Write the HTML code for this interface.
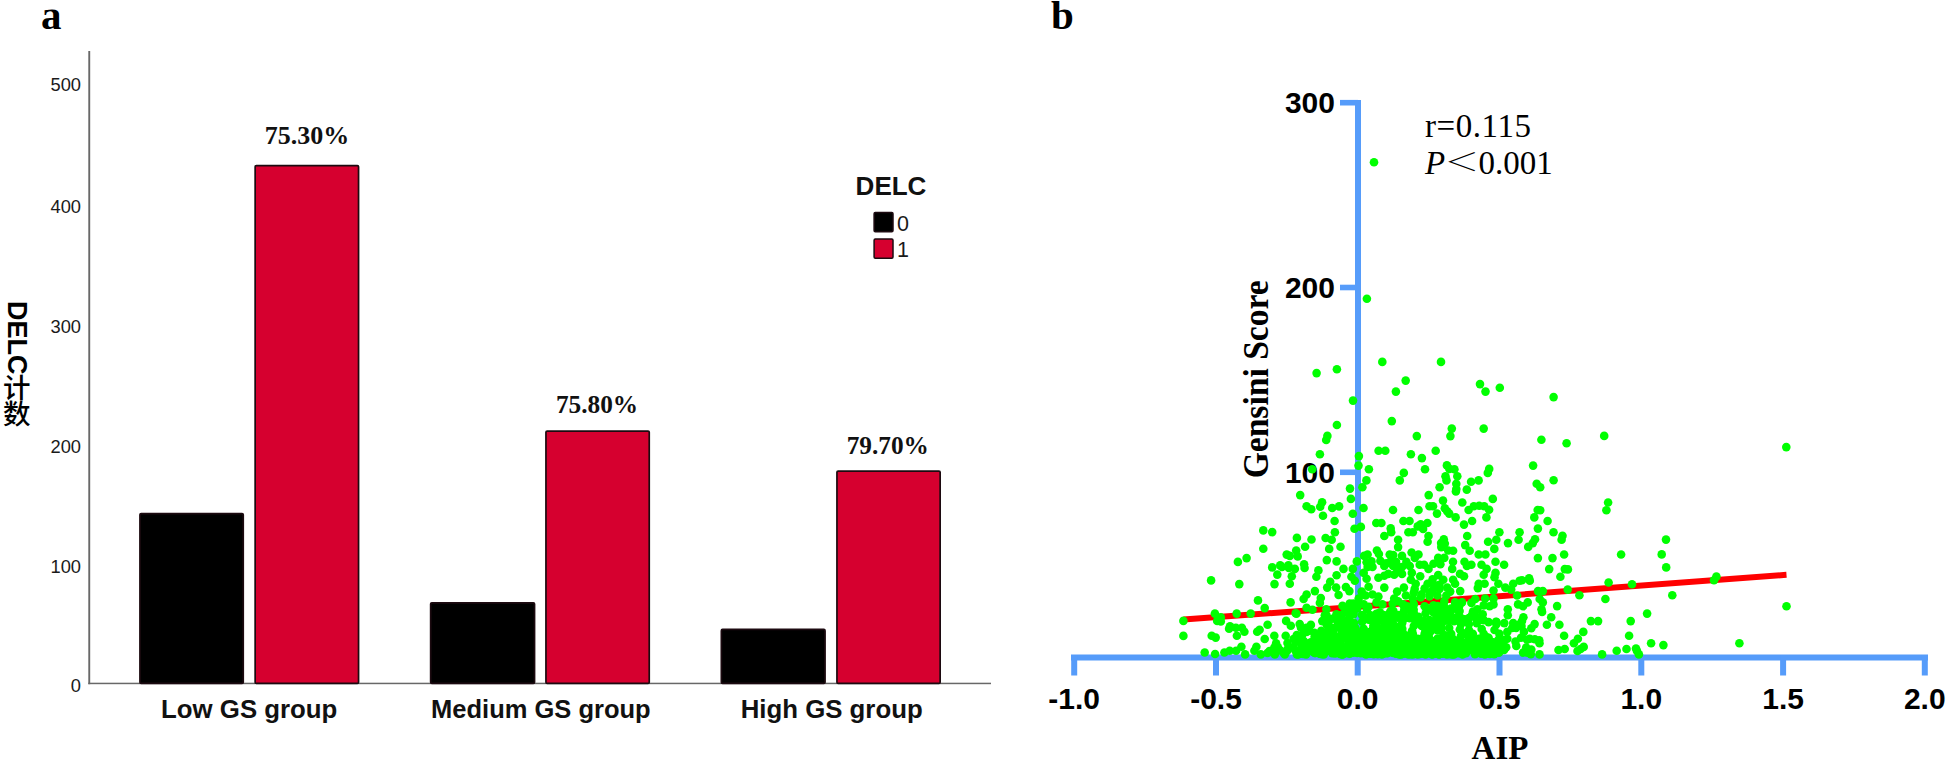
<!DOCTYPE html>
<html lang="en">
<head>
<meta charset="utf-8">
<title>Figure: DELC counts by GS group and AIP vs Gensini Score</title>
<style>
html,body{margin:0;padding:0;background:#fff;}
body{width:1948px;height:762px;overflow:hidden;position:relative;}
svg{position:absolute;left:0;top:0;display:block;}
.sans{font-family:"Liberation Sans","Noto Sans CJK SC",sans-serif;}
.serif{font-family:"Liberation Serif","Noto Serif CJK SC",serif;}
.b{font-weight:bold;}
.ylab{position:absolute;left:2px;top:301.4px;width:30px;height:140px;writing-mode:vertical-rl;text-orientation:mixed;
 font-family:"Liberation Sans","Noto Sans CJK SC",sans-serif;font-size:27px;line-height:30px;color:#000;white-space:nowrap;}
.ylab b{font-weight:bold;}
.ylab span{font-weight:500;font-size:27.5px;letter-spacing:-1.8px;position:relative;left:-3.2px;top:-1.2px;}
</style>
</head>
<body>
<svg width="1948" height="762" viewBox="0 0 1948 762">
<rect x="0" y="0" width="1948" height="762" fill="#ffffff"/>

<text x="41" y="29.4" class="serif b" font-size="41" fill="#000">a</text>
<text x="1051" y="29.4" class="serif b" font-size="41" fill="#000">b</text>
<g id="bar-chart">
<rect x="88.3" y="51" width="1.9" height="633.2" fill="#686868"/>
<rect x="88.3" y="682.7" width="902.7" height="1.5" fill="#686868"/>
<text x="81" y="692.4" text-anchor="end" class="sans" font-size="18.3" fill="#1a1a1a">0</text>
<text x="81" y="572.5" text-anchor="end" class="sans" font-size="18.3" fill="#1a1a1a">100</text>
<text x="81" y="452.6" text-anchor="end" class="sans" font-size="18.3" fill="#1a1a1a">200</text>
<text x="81" y="332.7" text-anchor="end" class="sans" font-size="18.3" fill="#1a1a1a">300</text>
<text x="81" y="212.8" text-anchor="end" class="sans" font-size="18.3" fill="#1a1a1a">400</text>
<text x="81" y="91.2" text-anchor="end" class="sans" font-size="18.3" fill="#1a1a1a">500</text>
<rect x="139.95" y="513.65" width="103.30" height="169.75" rx="1.2" fill="#000000" stroke="#1c0a10" stroke-width="1.7"/>
<rect x="255.15" y="165.55" width="103.40" height="517.85" rx="1.2" fill="#d6002f" stroke="#1c0a10" stroke-width="1.7"/>
<rect x="430.65" y="602.85" width="103.90" height="80.55" rx="1.2" fill="#000000" stroke="#1c0a10" stroke-width="1.7"/>
<rect x="545.95" y="431.15" width="103.30" height="252.25" rx="1.2" fill="#d6002f" stroke="#1c0a10" stroke-width="1.7"/>
<rect x="721.35" y="629.45" width="103.70" height="53.95" rx="1.2" fill="#000000" stroke="#1c0a10" stroke-width="1.7"/>
<rect x="836.95" y="471.15" width="103.20" height="212.25" rx="1.2" fill="#d6002f" stroke="#1c0a10" stroke-width="1.7"/>
<text x="307" y="144.1" text-anchor="middle" class="serif b" font-size="26" fill="#111">75.30%</text>
<text x="597" y="412.8" text-anchor="middle" class="serif b" font-size="25.3" fill="#111">75.80%</text>
<text x="887.8" y="454.1" text-anchor="middle" class="serif b" font-size="25.3" fill="#111">79.70%</text>
<text x="249.2" y="717.5" text-anchor="middle" class="sans b" font-size="25.8" fill="#111">Low GS group</text>
<text x="540.9" y="717.5" text-anchor="middle" class="sans b" font-size="25.5" fill="#111">Medium GS group</text>
<text x="831.7" y="717.5" text-anchor="middle" class="sans b" font-size="25.8" fill="#111">High GS group</text>
<text x="891" y="195" text-anchor="middle" class="sans b" font-size="26" fill="#111">DELC</text>
<rect x="874.1" y="212.6" width="18.9" height="19.2" rx="1.2" fill="#000" stroke="#1c0a10" stroke-width="1.5"/>
<rect x="874.1" y="239" width="18.9" height="19.2" rx="1.2" fill="#d6002f" stroke="#1c0a10" stroke-width="1.5"/>
<text x="897" y="231.4" class="sans" font-size="21.5" fill="#1a1a1a">0</text>
<text x="897" y="257" class="sans" font-size="21.5" fill="#1a1a1a">1</text>
</g>
<g id="scatter">
<g fill="#569cfa">
<rect x="1355" y="100" width="6" height="560"/>
<rect x="1071" y="654.5" width="857" height="6"/>
<rect x="1340" y="99.9" width="18" height="5.6"/>
<rect x="1340" y="284.7" width="18" height="5.6"/>
<rect x="1340" y="469.5" width="18" height="5.6"/>
<rect x="1071.2" y="655" width="6" height="20.5"/>
<rect x="1213.0" y="655" width="6" height="20.5"/>
<rect x="1354.7" y="655" width="6" height="20.5"/>
<rect x="1496.5" y="655" width="6" height="20.5"/>
<rect x="1638.3" y="655" width="6" height="20.5"/>
<rect x="1780.1" y="655" width="6" height="20.5"/>
<rect x="1921.8" y="655" width="6" height="20.5"/>
</g>
<text x="1335" y="113.2" text-anchor="end" class="sans b" font-size="30" fill="#000">300</text>
<text x="1335" y="298.0" text-anchor="end" class="sans b" font-size="30" fill="#000">200</text>
<text x="1335" y="482.8" text-anchor="end" class="sans b" font-size="30" fill="#000">100</text>
<text x="1074.2" y="708.8" text-anchor="middle" class="sans b" font-size="30" fill="#000">-1.0</text>
<text x="1216.0" y="708.8" text-anchor="middle" class="sans b" font-size="30" fill="#000">-0.5</text>
<text x="1357.7" y="708.8" text-anchor="middle" class="sans b" font-size="30" fill="#000">0.0</text>
<text x="1499.5" y="708.8" text-anchor="middle" class="sans b" font-size="30" fill="#000">0.5</text>
<text x="1641.3" y="708.8" text-anchor="middle" class="sans b" font-size="30" fill="#000">1.0</text>
<text x="1783.1" y="708.8" text-anchor="middle" class="sans b" font-size="30" fill="#000">1.5</text>
<text x="1924.8" y="708.8" text-anchor="middle" class="sans b" font-size="30" fill="#000">2.0</text>
<line x1="1183.5" y1="619.6" x2="1786.5" y2="574.8" stroke="#ff0000" stroke-width="6"/>
<g fill="#00ff00">
<circle cx="1374" cy="162.3" r="4.3"/>
<circle cx="1366.9" cy="298.8" r="4.3"/>
<circle cx="1786.3" cy="447.1" r="4.3"/>
<circle cx="1316.6" cy="373.1" r="4.3"/>
<circle cx="1336.9" cy="369.3" r="4.3"/>
<circle cx="1382.3" cy="361.9" r="4.3"/>
<circle cx="1441.0" cy="361.9" r="4.3"/>
<circle cx="1405.7" cy="380.6" r="4.3"/>
<circle cx="1395.9" cy="391.6" r="4.3"/>
<circle cx="1480.0" cy="384.1" r="4.3"/>
<circle cx="1485.5" cy="391.6" r="4.3"/>
<circle cx="1353.0" cy="400.6" r="4.3"/>
<circle cx="1391.8" cy="421.1" r="4.3"/>
<circle cx="1336.9" cy="425.0" r="4.3"/>
<circle cx="1327.4" cy="435.9" r="4.3"/>
<circle cx="1326.2" cy="440.0" r="4.3"/>
<circle cx="1451.8" cy="428.6" r="4.3"/>
<circle cx="1450.4" cy="436.1" r="4.3"/>
<circle cx="1483.7" cy="428.6" r="4.3"/>
<circle cx="1416.8" cy="436.1" r="4.3"/>
<circle cx="1319.9" cy="454.2" r="4.3"/>
<circle cx="1378.6" cy="450.8" r="4.3"/>
<circle cx="1385.3" cy="450.8" r="4.3"/>
<circle cx="1435.7" cy="450.8" r="4.3"/>
<circle cx="1410.9" cy="454.2" r="4.3"/>
<circle cx="1421.9" cy="458.1" r="4.3"/>
<circle cx="1358.9" cy="456.1" r="4.3"/>
<circle cx="1358.5" cy="465.6" r="4.3"/>
<circle cx="1368.9" cy="469.3" r="4.3"/>
<circle cx="1312.2" cy="469.3" r="4.3"/>
<circle cx="1425.0" cy="469.3" r="4.3"/>
<circle cx="1403.8" cy="472.9" r="4.3"/>
<circle cx="1399.8" cy="480.4" r="4.3"/>
<circle cx="1366.4" cy="480.4" r="4.3"/>
<circle cx="1362.4" cy="487.2" r="4.3"/>
<circle cx="1350.0" cy="488.6" r="4.3"/>
<circle cx="1446.9" cy="465.4" r="4.3"/>
<circle cx="1454.4" cy="469.3" r="4.3"/>
<circle cx="1449.4" cy="468.9" r="4.3"/>
<circle cx="1445.5" cy="476.2" r="4.3"/>
<circle cx="1457.3" cy="476.2" r="4.3"/>
<circle cx="1446.5" cy="480.4" r="4.3"/>
<circle cx="1456.3" cy="483.7" r="4.3"/>
<circle cx="1439.6" cy="487.2" r="4.3"/>
<circle cx="1471.1" cy="481.7" r="4.3"/>
<circle cx="1478.6" cy="480.4" r="4.3"/>
<circle cx="1487.8" cy="472.9" r="4.3"/>
<circle cx="1489.2" cy="468.9" r="4.3"/>
<circle cx="1466.8" cy="489.6" r="4.3"/>
<circle cx="1456.3" cy="489.0" r="4.3"/>
<circle cx="1499.8" cy="387.8" r="4.3"/>
<circle cx="1553.6" cy="397.1" r="4.3"/>
<circle cx="1604.2" cy="435.9" r="4.3"/>
<circle cx="1541.4" cy="439.8" r="4.3"/>
<circle cx="1566.6" cy="443.3" r="4.3"/>
<circle cx="1533.1" cy="465.6" r="4.3"/>
<circle cx="1553.6" cy="480.2" r="4.3"/>
<circle cx="1536.7" cy="483.7" r="4.3"/>
<circle cx="1540.2" cy="487.2" r="4.3"/>
<circle cx="1263.3" cy="530.4" r="4.3"/>
<circle cx="1272.2" cy="532.1" r="4.3"/>
<circle cx="1263.3" cy="548.7" r="4.3"/>
<circle cx="1246.6" cy="558.1" r="4.3"/>
<circle cx="1237.9" cy="561.9" r="4.3"/>
<circle cx="1286.7" cy="554.6" r="4.3"/>
<circle cx="1272.2" cy="567.4" r="4.3"/>
<circle cx="1280.2" cy="565.4" r="4.3"/>
<circle cx="1277.3" cy="574.6" r="4.3"/>
<circle cx="1211.1" cy="580.4" r="4.3"/>
<circle cx="1239.3" cy="584.1" r="4.3"/>
<circle cx="1274.5" cy="584.1" r="4.3"/>
<circle cx="1258.0" cy="600.4" r="4.3"/>
<circle cx="1264.7" cy="608.1" r="4.3"/>
<circle cx="1214.9" cy="613.6" r="4.3"/>
<circle cx="1236.7" cy="613.6" r="4.3"/>
<circle cx="1250.7" cy="613.6" r="4.3"/>
<circle cx="1183.4" cy="620.9" r="4.3"/>
<circle cx="1220.8" cy="617.4" r="4.3"/>
<circle cx="1217.2" cy="620.9" r="4.3"/>
<circle cx="1220.8" cy="621.5" r="4.3"/>
<circle cx="1230.0" cy="626.4" r="4.3"/>
<circle cx="1229.1" cy="628.8" r="4.3"/>
<circle cx="1235.9" cy="627.8" r="4.3"/>
<circle cx="1241.9" cy="627.8" r="4.3"/>
<circle cx="1244.4" cy="631.7" r="4.3"/>
<circle cx="1236.9" cy="635.7" r="4.3"/>
<circle cx="1267.6" cy="624.8" r="4.3"/>
<circle cx="1259.6" cy="629.8" r="4.3"/>
<circle cx="1257.2" cy="631.7" r="4.3"/>
<circle cx="1286.1" cy="620.9" r="4.3"/>
<circle cx="1183.4" cy="635.9" r="4.3"/>
<circle cx="1211.7" cy="635.7" r="4.3"/>
<circle cx="1215.7" cy="637.6" r="4.3"/>
<circle cx="1274.3" cy="635.7" r="4.3"/>
<circle cx="1285.7" cy="635.7" r="4.3"/>
<circle cx="1264.7" cy="639.0" r="4.3"/>
<circle cx="1300.2" cy="495.1" r="4.3"/>
<circle cx="1350.9" cy="498.9" r="4.3"/>
<circle cx="1322.1" cy="502.3" r="4.3"/>
<circle cx="1320.2" cy="506.7" r="4.3"/>
<circle cx="1306.6" cy="506.2" r="4.3"/>
<circle cx="1311.3" cy="509.2" r="4.3"/>
<circle cx="1332.2" cy="508.0" r="4.3"/>
<circle cx="1339.1" cy="506.4" r="4.3"/>
<circle cx="1363.5" cy="508.0" r="4.3"/>
<circle cx="1393.0" cy="510.0" r="4.3"/>
<circle cx="1323.0" cy="515.8" r="4.3"/>
<circle cx="1352.8" cy="513.8" r="4.3"/>
<circle cx="1334.6" cy="521.0" r="4.3"/>
<circle cx="1376.3" cy="523.0" r="4.3"/>
<circle cx="1381.4" cy="523.0" r="4.3"/>
<circle cx="1354.5" cy="528.7" r="4.3"/>
<circle cx="1360.9" cy="526.9" r="4.3"/>
<circle cx="1390.7" cy="528.4" r="4.3"/>
<circle cx="1391.2" cy="532.3" r="4.3"/>
<circle cx="1334.9" cy="532.3" r="4.3"/>
<circle cx="1384.3" cy="536.0" r="4.3"/>
<circle cx="1296.9" cy="537.9" r="4.3"/>
<circle cx="1311.5" cy="539.5" r="4.3"/>
<circle cx="1325.6" cy="538.0" r="4.3"/>
<circle cx="1331.7" cy="539.7" r="4.3"/>
<circle cx="1398.1" cy="539.7" r="4.3"/>
<circle cx="1305.1" cy="546.8" r="4.3"/>
<circle cx="1329.2" cy="548.9" r="4.3"/>
<circle cx="1340.5" cy="546.8" r="4.3"/>
<circle cx="1296.2" cy="550.5" r="4.3"/>
<circle cx="1289.8" cy="555.9" r="4.3"/>
<circle cx="1297.7" cy="556.4" r="4.3"/>
<circle cx="1376.9" cy="550.5" r="4.3"/>
<circle cx="1378.9" cy="554.0" r="4.3"/>
<circle cx="1367.6" cy="554.5" r="4.3"/>
<circle cx="1364.2" cy="555.9" r="4.3"/>
<circle cx="1389.7" cy="554.5" r="4.3"/>
<circle cx="1393.2" cy="555.0" r="4.3"/>
<circle cx="1398.1" cy="547.1" r="4.3"/>
<circle cx="1326.8" cy="560.1" r="4.3"/>
<circle cx="1336.6" cy="561.4" r="4.3"/>
<circle cx="1356.8" cy="561.4" r="4.3"/>
<circle cx="1304.1" cy="564.3" r="4.3"/>
<circle cx="1288.4" cy="565.3" r="4.3"/>
<circle cx="1371.5" cy="561.4" r="4.3"/>
<circle cx="1380.4" cy="560.9" r="4.3"/>
<circle cx="1391.2" cy="560.4" r="4.3"/>
<circle cx="1366.6" cy="562.3" r="4.3"/>
<circle cx="1386.3" cy="563.3" r="4.3"/>
<circle cx="1396.1" cy="561.9" r="4.3"/>
<circle cx="1428.7" cy="495.1" r="4.3"/>
<circle cx="1455.9" cy="491.5" r="4.3"/>
<circle cx="1492.8" cy="498.9" r="4.3"/>
<circle cx="1443.0" cy="500.6" r="4.3"/>
<circle cx="1462.3" cy="502.5" r="4.3"/>
<circle cx="1429.5" cy="506.2" r="4.3"/>
<circle cx="1433.0" cy="506.2" r="4.3"/>
<circle cx="1418.5" cy="510.0" r="4.3"/>
<circle cx="1444.8" cy="508.2" r="4.3"/>
<circle cx="1447.2" cy="511.2" r="4.3"/>
<circle cx="1449.2" cy="513.6" r="4.3"/>
<circle cx="1437.0" cy="513.6" r="4.3"/>
<circle cx="1455.6" cy="517.4" r="4.3"/>
<circle cx="1473.8" cy="506.2" r="4.3"/>
<circle cx="1479.2" cy="505.7" r="4.3"/>
<circle cx="1484.2" cy="506.2" r="4.3"/>
<circle cx="1489.1" cy="509.7" r="4.3"/>
<circle cx="1468.6" cy="510.0" r="4.3"/>
<circle cx="1486.4" cy="517.4" r="4.3"/>
<circle cx="1472.1" cy="521.0" r="4.3"/>
<circle cx="1464.0" cy="524.6" r="4.3"/>
<circle cx="1403.4" cy="521.0" r="4.3"/>
<circle cx="1409.5" cy="521.0" r="4.3"/>
<circle cx="1427.4" cy="523.0" r="4.3"/>
<circle cx="1420.7" cy="524.4" r="4.3"/>
<circle cx="1417.7" cy="526.4" r="4.3"/>
<circle cx="1423.1" cy="528.9" r="4.3"/>
<circle cx="1408.4" cy="532.3" r="4.3"/>
<circle cx="1412.8" cy="532.3" r="4.3"/>
<circle cx="1428.5" cy="536.0" r="4.3"/>
<circle cx="1427.6" cy="541.7" r="4.3"/>
<circle cx="1443.8" cy="539.2" r="4.3"/>
<circle cx="1441.1" cy="543.1" r="4.3"/>
<circle cx="1444.8" cy="543.6" r="4.3"/>
<circle cx="1441.3" cy="547.1" r="4.3"/>
<circle cx="1499.4" cy="532.3" r="4.3"/>
<circle cx="1519.6" cy="532.3" r="4.3"/>
<circle cx="1496.3" cy="539.7" r="4.3"/>
<circle cx="1488.1" cy="541.7" r="4.3"/>
<circle cx="1508.0" cy="543.1" r="4.3"/>
<circle cx="1518.6" cy="539.7" r="4.3"/>
<circle cx="1467.2" cy="536.0" r="4.3"/>
<circle cx="1465.2" cy="545.1" r="4.3"/>
<circle cx="1469.7" cy="550.8" r="4.3"/>
<circle cx="1494.3" cy="548.9" r="4.3"/>
<circle cx="1448.2" cy="550.5" r="4.3"/>
<circle cx="1453.1" cy="550.8" r="4.3"/>
<circle cx="1478.7" cy="554.5" r="4.3"/>
<circle cx="1485.4" cy="554.5" r="4.3"/>
<circle cx="1411.6" cy="552.5" r="4.3"/>
<circle cx="1418.5" cy="554.5" r="4.3"/>
<circle cx="1414.8" cy="557.9" r="4.3"/>
<circle cx="1402.0" cy="555.9" r="4.3"/>
<circle cx="1438.2" cy="557.9" r="4.3"/>
<circle cx="1444.3" cy="557.9" r="4.3"/>
<circle cx="1453.0" cy="561.7" r="4.3"/>
<circle cx="1464.5" cy="561.7" r="4.3"/>
<circle cx="1471.4" cy="564.8" r="4.3"/>
<circle cx="1495.5" cy="561.7" r="4.3"/>
<circle cx="1504.1" cy="564.8" r="4.3"/>
<circle cx="1481.5" cy="564.8" r="4.3"/>
<circle cx="1433.5" cy="563.8" r="4.3"/>
<circle cx="1440.4" cy="564.3" r="4.3"/>
<circle cx="1406.4" cy="561.9" r="4.3"/>
<circle cx="1419.7" cy="564.8" r="4.3"/>
<circle cx="1424.1" cy="564.8" r="4.3"/>
<circle cx="1608.1" cy="502.5" r="4.3"/>
<circle cx="1606.4" cy="510.2" r="4.3"/>
<circle cx="1537.7" cy="510.0" r="4.3"/>
<circle cx="1540.2" cy="510.2" r="4.3"/>
<circle cx="1534.3" cy="517.4" r="4.3"/>
<circle cx="1547.6" cy="521.0" r="4.3"/>
<circle cx="1537.9" cy="528.6" r="4.3"/>
<circle cx="1553.5" cy="532.3" r="4.3"/>
<circle cx="1562.5" cy="535.8" r="4.3"/>
<circle cx="1561.6" cy="539.7" r="4.3"/>
<circle cx="1535.0" cy="539.2" r="4.3"/>
<circle cx="1532.8" cy="543.1" r="4.3"/>
<circle cx="1528.2" cy="546.9" r="4.3"/>
<circle cx="1564.1" cy="554.5" r="4.3"/>
<circle cx="1621.1" cy="554.5" r="4.3"/>
<circle cx="1537.9" cy="558.1" r="4.3"/>
<circle cx="1552.5" cy="558.1" r="4.3"/>
<circle cx="1666.0" cy="539.6" r="4.3"/>
<circle cx="1661.7" cy="554.4" r="4.3"/>
<circle cx="1666.2" cy="567.4" r="4.3"/>
<circle cx="1716.4" cy="576.6" r="4.3"/>
<circle cx="1714.0" cy="580.2" r="4.3"/>
<circle cx="1672.3" cy="595.3" r="4.3"/>
<circle cx="1786.5" cy="606.3" r="4.3"/>
<circle cx="1647.1" cy="613.6" r="4.3"/>
<circle cx="1549.2" cy="569.1" r="4.3"/>
<circle cx="1564.8" cy="569.1" r="4.3"/>
<circle cx="1567.9" cy="569.4" r="4.3"/>
<circle cx="1560.4" cy="576.8" r="4.3"/>
<circle cx="1529.1" cy="578.3" r="4.3"/>
<circle cx="1529.8" cy="580.7" r="4.3"/>
<circle cx="1522.0" cy="580.3" r="4.3"/>
<circle cx="1608.6" cy="582.5" r="4.3"/>
<circle cx="1632.0" cy="584.2" r="4.3"/>
<circle cx="1538.0" cy="591.1" r="4.3"/>
<circle cx="1542.8" cy="591.1" r="4.3"/>
<circle cx="1567.7" cy="589.6" r="4.3"/>
<circle cx="1579.4" cy="595.3" r="4.3"/>
<circle cx="1605.4" cy="599.0" r="4.3"/>
<circle cx="1539.7" cy="599.0" r="4.3"/>
<circle cx="1542.8" cy="602.4" r="4.3"/>
<circle cx="1527.7" cy="602.4" r="4.3"/>
<circle cx="1523.0" cy="606.3" r="4.3"/>
<circle cx="1557.1" cy="606.1" r="4.3"/>
<circle cx="1541.5" cy="609.3" r="4.3"/>
<circle cx="1542.1" cy="612.0" r="4.3"/>
<circle cx="1551.2" cy="617.2" r="4.3"/>
<circle cx="1523.4" cy="617.2" r="4.3"/>
<circle cx="1522.0" cy="621.1" r="4.3"/>
<circle cx="1590.9" cy="621.1" r="4.3"/>
<circle cx="1598.1" cy="621.1" r="4.3"/>
<circle cx="1630.7" cy="621.1" r="4.3"/>
<circle cx="1546.9" cy="624.7" r="4.3"/>
<circle cx="1559.4" cy="624.7" r="4.3"/>
<circle cx="1531.3" cy="628.3" r="4.3"/>
<circle cx="1521.5" cy="626.0" r="4.3"/>
<circle cx="1523.9" cy="631.9" r="4.3"/>
<circle cx="1583.3" cy="631.9" r="4.3"/>
<circle cx="1564.1" cy="635.7" r="4.3"/>
<circle cx="1577.9" cy="638.8" r="4.3"/>
<circle cx="1629.1" cy="635.7" r="4.3"/>
<circle cx="1529.8" cy="638.8" r="4.3"/>
<circle cx="1534.8" cy="639.3" r="4.3"/>
<circle cx="1539.2" cy="640.3" r="4.3"/>
<circle cx="1521.0" cy="637.8" r="4.3"/>
<circle cx="1573.9" cy="643.3" r="4.3"/>
<circle cx="1651.1" cy="643.3" r="4.3"/>
<circle cx="1663.4" cy="645.1" r="4.3"/>
<circle cx="1583.7" cy="646.9" r="4.3"/>
<circle cx="1580.6" cy="649.0" r="4.3"/>
<circle cx="1577.5" cy="651.0" r="4.3"/>
<circle cx="1564.7" cy="649.0" r="4.3"/>
<circle cx="1558.5" cy="650.0" r="4.3"/>
<circle cx="1616.7" cy="650.8" r="4.3"/>
<circle cx="1626.5" cy="649.0" r="4.3"/>
<circle cx="1636.0" cy="648.5" r="4.3"/>
<circle cx="1637.0" cy="651.0" r="4.3"/>
<circle cx="1638.9" cy="654.4" r="4.3"/>
<circle cx="1602.1" cy="654.4" r="4.3"/>
<circle cx="1539.5" cy="654.4" r="4.3"/>
<circle cx="1530.8" cy="654.1" r="4.3"/>
<circle cx="1523.1" cy="652.6" r="4.3"/>
<circle cx="1539.5" cy="643.3" r="4.3"/>
<circle cx="1526.2" cy="647.5" r="4.3"/>
<circle cx="1531.3" cy="649.5" r="4.3"/>
<circle cx="1739.4" cy="643.3" r="4.3"/>
<circle cx="1204.7" cy="652.5" r="4.3"/>
<circle cx="1215.1" cy="654.0" r="4.3"/>
<circle cx="1224.4" cy="652.5" r="4.3"/>
<circle cx="1229.7" cy="650.7" r="4.3"/>
<circle cx="1236.1" cy="650.7" r="4.3"/>
<circle cx="1241.4" cy="646.7" r="4.3"/>
<circle cx="1245.1" cy="654.4" r="4.3"/>
<circle cx="1256.4" cy="646.7" r="4.3"/>
<circle cx="1254.4" cy="650.7" r="4.3"/>
<circle cx="1260.8" cy="654.4" r="4.3"/>
<circle cx="1276.1" cy="643.4" r="4.3"/>
<circle cx="1269.5" cy="651.0" r="4.3"/>
<circle cx="1267.5" cy="653.0" r="4.3"/>
<circle cx="1274.8" cy="654.4" r="4.3"/>
<circle cx="1280.1" cy="650.4" r="4.3"/>
<circle cx="1284.8" cy="654.4" r="4.3"/>
<circle cx="1287.5" cy="643.0" r="4.3"/>
<circle cx="1290.8" cy="625.7" r="4.3"/>
<circle cx="1293.5" cy="639.0" r="4.3"/>
<circle cx="1296.8" cy="635.0" r="4.3"/>
<circle cx="1293.5" cy="647.0" r="4.3"/>
<circle cx="1298.2" cy="654.4" r="4.3"/>
<circle cx="1296.8" cy="651.0" r="4.3"/>
<circle cx="1282.0" cy="567.0" r="4.3"/>
<circle cx="1288.9" cy="568.0" r="4.3"/>
<circle cx="1294.8" cy="568.9" r="4.3"/>
<circle cx="1304.6" cy="568.0" r="4.3"/>
<circle cx="1318.4" cy="570.4" r="4.3"/>
<circle cx="1316.4" cy="576.8" r="4.3"/>
<circle cx="1291.8" cy="576.3" r="4.3"/>
<circle cx="1289.8" cy="583.7" r="4.3"/>
<circle cx="1343.5" cy="568.9" r="4.3"/>
<circle cx="1352.8" cy="568.9" r="4.3"/>
<circle cx="1336.6" cy="575.3" r="4.3"/>
<circle cx="1351.4" cy="576.8" r="4.3"/>
<circle cx="1354.8" cy="580.7" r="4.3"/>
<circle cx="1330.2" cy="581.7" r="4.3"/>
<circle cx="1327.2" cy="587.6" r="4.3"/>
<circle cx="1336.1" cy="587.6" r="4.3"/>
<circle cx="1345.9" cy="587.1" r="4.3"/>
<circle cx="1349.4" cy="591.1" r="4.3"/>
<circle cx="1338.6" cy="595.0" r="4.3"/>
<circle cx="1314.9" cy="591.1" r="4.3"/>
<circle cx="1306.6" cy="594.5" r="4.3"/>
<circle cx="1303.6" cy="599.0" r="4.3"/>
<circle cx="1320.8" cy="598.0" r="4.3"/>
<circle cx="1319.9" cy="602.9" r="4.3"/>
<circle cx="1290.6" cy="602.4" r="4.3"/>
<circle cx="1306.6" cy="607.8" r="4.3"/>
<circle cx="1312.5" cy="609.8" r="4.3"/>
<circle cx="1342.5" cy="605.8" r="4.3"/>
<circle cx="1326.3" cy="609.3" r="4.3"/>
<circle cx="1351.9" cy="606.3" r="4.3"/>
<circle cx="1295.7" cy="613.2" r="4.3"/>
<circle cx="1299.7" cy="624.1" r="4.3"/>
<circle cx="1322.3" cy="621.1" r="4.3"/>
<circle cx="1328.2" cy="624.1" r="4.3"/>
<circle cx="1306.6" cy="631.9" r="4.3"/>
<circle cx="1314.4" cy="632.9" r="4.3"/>
<circle cx="1321.3" cy="630.9" r="4.3"/>
<circle cx="1326.3" cy="638.8" r="4.3"/>
<circle cx="1334.1" cy="628.0" r="4.3"/>
<circle cx="1333.1" cy="632.9" r="4.3"/>
<circle cx="1363.7" cy="572.9" r="4.3"/>
<circle cx="1366.6" cy="578.8" r="4.3"/>
<circle cx="1368.6" cy="586.7" r="4.3"/>
<circle cx="1361.7" cy="591.6" r="4.3"/>
<circle cx="1365.6" cy="595.5" r="4.3"/>
<circle cx="1358.7" cy="598.5" r="4.3"/>
<circle cx="1363.7" cy="604.4" r="4.3"/>
<circle cx="1372.5" cy="594.5" r="4.3"/>
<circle cx="1378.4" cy="596.5" r="4.3"/>
<circle cx="1376.5" cy="602.4" r="4.3"/>
<circle cx="1382.4" cy="604.4" r="4.3"/>
<circle cx="1378.4" cy="577.8" r="4.3"/>
<circle cx="1384.3" cy="575.8" r="4.3"/>
<circle cx="1384.3" cy="587.6" r="4.3"/>
<circle cx="1388.3" cy="573.9" r="4.3"/>
<circle cx="1394.2" cy="574.8" r="4.3"/>
<circle cx="1397.1" cy="568.9" r="4.3"/>
<circle cx="1393.2" cy="566.0" r="4.3"/>
<circle cx="1384.3" cy="566.0" r="4.3"/>
<circle cx="1372.5" cy="567.0" r="4.3"/>
<circle cx="1367.6" cy="567.0" r="4.3"/>
<circle cx="1397.1" cy="591.6" r="4.3"/>
<circle cx="1394.2" cy="598.5" r="4.3"/>
<circle cx="1398.1" cy="601.4" r="4.3"/>
<circle cx="1402.0" cy="567.0" r="4.3"/>
<circle cx="1409.8" cy="566.0" r="4.3"/>
<circle cx="1428.5" cy="568.9" r="4.3"/>
<circle cx="1452.2" cy="568.9" r="4.3"/>
<circle cx="1466.9" cy="566.0" r="4.3"/>
<circle cx="1486.6" cy="568.9" r="4.3"/>
<circle cx="1402.0" cy="573.9" r="4.3"/>
<circle cx="1411.8" cy="572.9" r="4.3"/>
<circle cx="1420.2" cy="576.3" r="4.3"/>
<circle cx="1460.0" cy="573.9" r="4.3"/>
<circle cx="1464.0" cy="576.3" r="4.3"/>
<circle cx="1483.7" cy="574.8" r="4.3"/>
<circle cx="1495.5" cy="572.9" r="4.3"/>
<circle cx="1494.5" cy="577.3" r="4.3"/>
<circle cx="1443.3" cy="579.8" r="4.3"/>
<circle cx="1453.1" cy="579.8" r="4.3"/>
<circle cx="1410.8" cy="579.8" r="4.3"/>
<circle cx="1403.9" cy="587.6" r="4.3"/>
<circle cx="1413.8" cy="592.6" r="4.3"/>
<circle cx="1415.7" cy="583.7" r="4.3"/>
<circle cx="1427.6" cy="583.7" r="4.3"/>
<circle cx="1424.6" cy="588.6" r="4.3"/>
<circle cx="1439.4" cy="584.7" r="4.3"/>
<circle cx="1432.5" cy="590.6" r="4.3"/>
<circle cx="1447.2" cy="587.6" r="4.3"/>
<circle cx="1450.2" cy="591.6" r="4.3"/>
<circle cx="1455.1" cy="583.7" r="4.3"/>
<circle cx="1460.2" cy="591.1" r="4.3"/>
<circle cx="1478.7" cy="583.7" r="4.3"/>
<circle cx="1484.6" cy="583.7" r="4.3"/>
<circle cx="1477.8" cy="588.1" r="4.3"/>
<circle cx="1498.4" cy="583.7" r="4.3"/>
<circle cx="1493.5" cy="590.6" r="4.3"/>
<circle cx="1505.3" cy="587.6" r="4.3"/>
<circle cx="1513.2" cy="583.7" r="4.3"/>
<circle cx="1519.6" cy="580.7" r="4.3"/>
<circle cx="1511.2" cy="589.6" r="4.3"/>
<circle cx="1517.1" cy="595.5" r="4.3"/>
<circle cx="1405.9" cy="595.5" r="4.3"/>
<circle cx="1412.8" cy="598.5" r="4.3"/>
<circle cx="1403.0" cy="604.4" r="4.3"/>
<circle cx="1420.7" cy="597.5" r="4.3"/>
<circle cx="1429.5" cy="596.5" r="4.3"/>
<circle cx="1437.4" cy="595.5" r="4.3"/>
<circle cx="1446.3" cy="595.5" r="4.3"/>
<circle cx="1444.3" cy="601.4" r="4.3"/>
<circle cx="1455.1" cy="602.4" r="4.3"/>
<circle cx="1462.0" cy="602.4" r="4.3"/>
<circle cx="1459.1" cy="606.3" r="4.3"/>
<circle cx="1475.3" cy="599.0" r="4.3"/>
<circle cx="1471.4" cy="602.9" r="4.3"/>
<circle cx="1485.1" cy="598.5" r="4.3"/>
<circle cx="1493.5" cy="598.5" r="4.3"/>
<circle cx="1493.5" cy="604.4" r="4.3"/>
<circle cx="1483.7" cy="605.4" r="4.3"/>
<circle cx="1489.6" cy="606.3" r="4.3"/>
<circle cx="1518.1" cy="604.4" r="4.3"/>
<circle cx="1413.8" cy="604.4" r="4.3"/>
<circle cx="1424.6" cy="606.3" r="4.3"/>
<circle cx="1433.5" cy="605.4" r="4.3"/>
<circle cx="1441.3" cy="607.3" r="4.3"/>
<circle cx="1403.9" cy="611.3" r="4.3"/>
<circle cx="1411.8" cy="612.2" r="4.3"/>
<circle cx="1409.8" cy="618.1" r="4.3"/>
<circle cx="1425.6" cy="613.2" r="4.3"/>
<circle cx="1429.5" cy="620.1" r="4.3"/>
<circle cx="1441.3" cy="614.2" r="4.3"/>
<circle cx="1448.2" cy="613.2" r="4.3"/>
<circle cx="1439.4" cy="620.1" r="4.3"/>
<circle cx="1417.7" cy="620.1" r="4.3"/>
<circle cx="1403.0" cy="620.1" r="4.3"/>
<circle cx="1454.1" cy="621.1" r="4.3"/>
<circle cx="1461.0" cy="618.1" r="4.3"/>
<circle cx="1468.9" cy="618.1" r="4.3"/>
<circle cx="1475.8" cy="618.1" r="4.3"/>
<circle cx="1482.7" cy="614.2" r="4.3"/>
<circle cx="1483.7" cy="620.1" r="4.3"/>
<circle cx="1461.0" cy="624.1" r="4.3"/>
<circle cx="1468.9" cy="624.1" r="4.3"/>
<circle cx="1476.8" cy="623.1" r="4.3"/>
<circle cx="1488.6" cy="622.1" r="4.3"/>
<circle cx="1496.5" cy="622.1" r="4.3"/>
<circle cx="1504.3" cy="623.1" r="4.3"/>
<circle cx="1507.8" cy="609.3" r="4.3"/>
<circle cx="1507.8" cy="615.2" r="4.3"/>
<circle cx="1513.2" cy="623.1" r="4.3"/>
<circle cx="1512.2" cy="628.0" r="4.3"/>
<circle cx="1413.8" cy="626.0" r="4.3"/>
<circle cx="1421.7" cy="626.0" r="4.3"/>
<circle cx="1429.5" cy="628.0" r="4.3"/>
<circle cx="1441.3" cy="626.0" r="4.3"/>
<circle cx="1449.2" cy="628.0" r="4.3"/>
<circle cx="1403.0" cy="633.9" r="4.3"/>
<circle cx="1412.8" cy="633.9" r="4.3"/>
<circle cx="1424.6" cy="633.9" r="4.3"/>
<circle cx="1443.3" cy="635.9" r="4.3"/>
<circle cx="1451.2" cy="633.9" r="4.3"/>
<circle cx="1461.0" cy="635.9" r="4.3"/>
<circle cx="1468.9" cy="630.0" r="4.3"/>
<circle cx="1472.8" cy="633.9" r="4.3"/>
<circle cx="1481.7" cy="629.0" r="4.3"/>
<circle cx="1483.7" cy="633.9" r="4.3"/>
<circle cx="1494.5" cy="630.0" r="4.3"/>
<circle cx="1499.4" cy="633.9" r="4.3"/>
<circle cx="1507.3" cy="631.9" r="4.3"/>
<circle cx="1516.1" cy="628.0" r="4.3"/>
<circle cx="1520.0" cy="624.1" r="4.3"/>
<circle cx="1439.4" cy="630.0" r="4.3"/>
<circle cx="1405.9" cy="638.8" r="4.3"/>
<circle cx="1417.7" cy="638.8" r="4.3"/>
<circle cx="1429.5" cy="638.8" r="4.3"/>
<circle cx="1437.4" cy="638.8" r="4.3"/>
<circle cx="1449.2" cy="639.8" r="4.3"/>
<circle cx="1459.1" cy="639.8" r="4.3"/>
<circle cx="1468.9" cy="639.8" r="4.3"/>
<circle cx="1478.7" cy="638.8" r="4.3"/>
<circle cx="1488.6" cy="637.8" r="4.3"/>
<circle cx="1498.4" cy="639.8" r="4.3"/>
<circle cx="1507.3" cy="638.8" r="4.3"/>
<circle cx="1432.6" cy="579.2" r="4.3"/>
<circle cx="1439.5" cy="588.9" r="4.3"/>
<circle cx="1429.9" cy="593.0" r="4.3"/>
<circle cx="1421.6" cy="594.4" r="4.3"/>
<circle cx="1434.0" cy="584.7" r="4.3"/>
<circle cx="1414.7" cy="588.9" r="4.3"/>
<circle cx="1438.2" cy="575.1" r="4.3"/>
<circle cx="1306.4" cy="627.9" r="4.3"/>
<circle cx="1397.3" cy="645.5" r="4.3"/>
<circle cx="1329.7" cy="626.9" r="4.3"/>
<circle cx="1452.5" cy="654.4" r="4.3"/>
<circle cx="1428.3" cy="648.6" r="4.3"/>
<circle cx="1381.0" cy="648.6" r="4.3"/>
<circle cx="1389.3" cy="621.9" r="4.3"/>
<circle cx="1332.3" cy="618.7" r="4.3"/>
<circle cx="1378.2" cy="620.0" r="4.3"/>
<circle cx="1357.7" cy="645.6" r="4.3"/>
<circle cx="1328.4" cy="629.9" r="4.3"/>
<circle cx="1423.0" cy="653.8" r="4.3"/>
<circle cx="1402.9" cy="651.5" r="4.3"/>
<circle cx="1336.3" cy="643.4" r="4.3"/>
<circle cx="1490.6" cy="653.4" r="4.3"/>
<circle cx="1391.5" cy="652.1" r="4.3"/>
<circle cx="1378.9" cy="630.2" r="4.3"/>
<circle cx="1422.6" cy="651.3" r="4.3"/>
<circle cx="1324.5" cy="650.1" r="4.3"/>
<circle cx="1396.3" cy="650.5" r="4.3"/>
<circle cx="1429.7" cy="643.1" r="4.3"/>
<circle cx="1480.5" cy="650.2" r="4.3"/>
<circle cx="1410.6" cy="651.8" r="4.3"/>
<circle cx="1430.8" cy="651.9" r="4.3"/>
<circle cx="1346.5" cy="652.4" r="4.3"/>
<circle cx="1412.8" cy="654.4" r="4.3"/>
<circle cx="1487.5" cy="653.4" r="4.3"/>
<circle cx="1329.0" cy="650.6" r="4.3"/>
<circle cx="1449.3" cy="644.1" r="4.3"/>
<circle cx="1367.6" cy="641.8" r="4.3"/>
<circle cx="1296.5" cy="613.8" r="4.3"/>
<circle cx="1409.7" cy="651.4" r="4.3"/>
<circle cx="1462.6" cy="654.0" r="4.3"/>
<circle cx="1392.4" cy="619.1" r="4.3"/>
<circle cx="1357.3" cy="652.9" r="4.3"/>
<circle cx="1368.8" cy="619.6" r="4.3"/>
<circle cx="1341.8" cy="627.8" r="4.3"/>
<circle cx="1417.1" cy="645.9" r="4.3"/>
<circle cx="1445.0" cy="635.4" r="4.3"/>
<circle cx="1355.0" cy="640.9" r="4.3"/>
<circle cx="1344.0" cy="652.0" r="4.3"/>
<circle cx="1418.2" cy="648.8" r="4.3"/>
<circle cx="1349.4" cy="649.4" r="4.3"/>
<circle cx="1370.4" cy="646.2" r="4.3"/>
<circle cx="1478.2" cy="646.2" r="4.3"/>
<circle cx="1398.2" cy="615.1" r="4.3"/>
<circle cx="1317.2" cy="645.9" r="4.3"/>
<circle cx="1403.8" cy="641.4" r="4.3"/>
<circle cx="1356.5" cy="636.1" r="4.3"/>
<circle cx="1433.3" cy="648.8" r="4.3"/>
<circle cx="1385.5" cy="618.6" r="4.3"/>
<circle cx="1360.8" cy="653.2" r="4.3"/>
<circle cx="1502.5" cy="648.0" r="4.3"/>
<circle cx="1406.3" cy="652.7" r="4.3"/>
<circle cx="1353.3" cy="652.8" r="4.3"/>
<circle cx="1457.5" cy="650.9" r="4.3"/>
<circle cx="1365.1" cy="652.4" r="4.3"/>
<circle cx="1457.0" cy="652.2" r="4.3"/>
<circle cx="1389.5" cy="649.4" r="4.3"/>
<circle cx="1379.2" cy="652.6" r="4.3"/>
<circle cx="1493.3" cy="642.2" r="4.3"/>
<circle cx="1370.5" cy="615.2" r="4.3"/>
<circle cx="1409.8" cy="652.6" r="4.3"/>
<circle cx="1414.4" cy="651.0" r="4.3"/>
<circle cx="1353.3" cy="603.6" r="4.3"/>
<circle cx="1322.0" cy="646.2" r="4.3"/>
<circle cx="1454.0" cy="654.4" r="4.3"/>
<circle cx="1409.7" cy="645.1" r="4.3"/>
<circle cx="1436.6" cy="651.2" r="4.3"/>
<circle cx="1484.9" cy="652.0" r="4.3"/>
<circle cx="1428.4" cy="635.2" r="4.3"/>
<circle cx="1368.3" cy="652.4" r="4.3"/>
<circle cx="1340.9" cy="640.0" r="4.3"/>
<circle cx="1450.9" cy="650.0" r="4.3"/>
<circle cx="1491.6" cy="653.2" r="4.3"/>
<circle cx="1388.2" cy="649.7" r="4.3"/>
<circle cx="1302.1" cy="635.0" r="4.3"/>
<circle cx="1340.0" cy="654.0" r="4.3"/>
<circle cx="1487.5" cy="651.2" r="4.3"/>
<circle cx="1379.0" cy="641.6" r="4.3"/>
<circle cx="1381.2" cy="648.0" r="4.3"/>
<circle cx="1435.9" cy="648.5" r="4.3"/>
<circle cx="1450.5" cy="654.1" r="4.3"/>
<circle cx="1456.6" cy="617.2" r="4.3"/>
<circle cx="1419.1" cy="649.3" r="4.3"/>
<circle cx="1348.4" cy="635.9" r="4.3"/>
<circle cx="1391.7" cy="614.5" r="4.3"/>
<circle cx="1451.2" cy="653.1" r="4.3"/>
<circle cx="1465.0" cy="647.2" r="4.3"/>
<circle cx="1344.6" cy="634.2" r="4.3"/>
<circle cx="1362.1" cy="639.4" r="4.3"/>
<circle cx="1371.6" cy="653.0" r="4.3"/>
<circle cx="1400.2" cy="642.5" r="4.3"/>
<circle cx="1481.0" cy="653.8" r="4.3"/>
<circle cx="1313.4" cy="648.9" r="4.3"/>
<circle cx="1373.0" cy="628.7" r="4.3"/>
<circle cx="1340.7" cy="635.1" r="4.3"/>
<circle cx="1343.2" cy="621.4" r="4.3"/>
<circle cx="1391.0" cy="643.5" r="4.3"/>
<circle cx="1475.8" cy="649.9" r="4.3"/>
<circle cx="1434.3" cy="641.2" r="4.3"/>
<circle cx="1369.6" cy="634.6" r="4.3"/>
<circle cx="1396.1" cy="643.0" r="4.3"/>
<circle cx="1459.5" cy="651.2" r="4.3"/>
<circle cx="1454.3" cy="642.8" r="4.3"/>
<circle cx="1413.5" cy="653.6" r="4.3"/>
<circle cx="1396.3" cy="638.4" r="4.3"/>
<circle cx="1348.0" cy="653.0" r="4.3"/>
<circle cx="1323.0" cy="645.9" r="4.3"/>
<circle cx="1381.9" cy="651.1" r="4.3"/>
<circle cx="1349.9" cy="642.7" r="4.3"/>
<circle cx="1487.4" cy="646.1" r="4.3"/>
<circle cx="1400.8" cy="648.5" r="4.3"/>
<circle cx="1425.8" cy="647.5" r="4.3"/>
<circle cx="1457.0" cy="646.2" r="4.3"/>
<circle cx="1395.9" cy="652.8" r="4.3"/>
<circle cx="1461.3" cy="651.2" r="4.3"/>
<circle cx="1364.6" cy="645.5" r="4.3"/>
<circle cx="1405.6" cy="641.9" r="4.3"/>
<circle cx="1434.7" cy="650.5" r="4.3"/>
<circle cx="1344.6" cy="608.3" r="4.3"/>
<circle cx="1352.1" cy="640.3" r="4.3"/>
<circle cx="1504.2" cy="640.1" r="4.3"/>
<circle cx="1327.9" cy="643.9" r="4.3"/>
<circle cx="1377.5" cy="628.6" r="4.3"/>
<circle cx="1430.2" cy="647.9" r="4.3"/>
<circle cx="1526.9" cy="650.0" r="4.3"/>
<circle cx="1516.3" cy="646.0" r="4.3"/>
<circle cx="1300.9" cy="651.0" r="4.3"/>
<circle cx="1326.7" cy="624.6" r="4.3"/>
<circle cx="1410.4" cy="634.6" r="4.3"/>
<circle cx="1327.9" cy="647.9" r="4.3"/>
<circle cx="1320.3" cy="653.8" r="4.3"/>
<circle cx="1363.8" cy="649.3" r="4.3"/>
<circle cx="1410.2" cy="648.0" r="4.3"/>
<circle cx="1338.1" cy="645.7" r="4.3"/>
<circle cx="1354.1" cy="644.9" r="4.3"/>
<circle cx="1315.9" cy="638.4" r="4.3"/>
<circle cx="1396.7" cy="634.8" r="4.3"/>
<circle cx="1365.3" cy="642.5" r="4.3"/>
<circle cx="1467.7" cy="650.3" r="4.3"/>
<circle cx="1415.3" cy="650.6" r="4.3"/>
<circle cx="1425.5" cy="654.4" r="4.3"/>
<circle cx="1380.7" cy="632.7" r="4.3"/>
<circle cx="1446.9" cy="654.4" r="4.3"/>
<circle cx="1423.5" cy="644.9" r="4.3"/>
<circle cx="1370.9" cy="653.8" r="4.3"/>
<circle cx="1434.5" cy="622.6" r="4.3"/>
<circle cx="1421.6" cy="645.3" r="4.3"/>
<circle cx="1372.1" cy="639.4" r="4.3"/>
<circle cx="1436.5" cy="652.8" r="4.3"/>
<circle cx="1412.1" cy="643.6" r="4.3"/>
<circle cx="1330.7" cy="638.8" r="4.3"/>
<circle cx="1358.9" cy="645.9" r="4.3"/>
<circle cx="1401.9" cy="646.0" r="4.3"/>
<circle cx="1385.5" cy="652.7" r="4.3"/>
<circle cx="1356.7" cy="649.5" r="4.3"/>
<circle cx="1344.7" cy="648.0" r="4.3"/>
<circle cx="1371.6" cy="636.5" r="4.3"/>
<circle cx="1324.8" cy="615.2" r="4.3"/>
<circle cx="1353.6" cy="646.6" r="4.3"/>
<circle cx="1474.0" cy="639.2" r="4.3"/>
<circle cx="1399.9" cy="637.6" r="4.3"/>
<circle cx="1319.6" cy="643.5" r="4.3"/>
<circle cx="1397.1" cy="651.2" r="4.3"/>
<circle cx="1323.7" cy="641.9" r="4.3"/>
<circle cx="1466.3" cy="644.3" r="4.3"/>
<circle cx="1427.5" cy="653.3" r="4.3"/>
<circle cx="1402.4" cy="651.5" r="4.3"/>
<circle cx="1366.2" cy="648.7" r="4.3"/>
<circle cx="1428.0" cy="641.8" r="4.3"/>
<circle cx="1482.0" cy="645.7" r="4.3"/>
<circle cx="1339.3" cy="639.8" r="4.3"/>
<circle cx="1406.2" cy="653.4" r="4.3"/>
<circle cx="1445.7" cy="644.6" r="4.3"/>
<circle cx="1433.6" cy="652.4" r="4.3"/>
<circle cx="1348.2" cy="631.5" r="4.3"/>
<circle cx="1334.5" cy="652.8" r="4.3"/>
<circle cx="1366.4" cy="638.9" r="4.3"/>
<circle cx="1431.6" cy="650.5" r="4.3"/>
<circle cx="1333.7" cy="641.0" r="4.3"/>
<circle cx="1527.1" cy="639.7" r="4.3"/>
<circle cx="1402.8" cy="646.1" r="4.3"/>
<circle cx="1363.9" cy="637.8" r="4.3"/>
<circle cx="1416.4" cy="648.0" r="4.3"/>
<circle cx="1331.3" cy="646.5" r="4.3"/>
<circle cx="1345.6" cy="649.2" r="4.3"/>
<circle cx="1423.0" cy="652.6" r="4.3"/>
<circle cx="1367.0" cy="609.3" r="4.3"/>
<circle cx="1428.7" cy="651.6" r="4.3"/>
<circle cx="1380.5" cy="642.6" r="4.3"/>
<circle cx="1431.9" cy="654.3" r="4.3"/>
<circle cx="1374.0" cy="640.8" r="4.3"/>
<circle cx="1381.9" cy="654.4" r="4.3"/>
<circle cx="1337.1" cy="651.7" r="4.3"/>
<circle cx="1393.7" cy="650.6" r="4.3"/>
<circle cx="1366.0" cy="654.4" r="4.3"/>
<circle cx="1412.4" cy="649.0" r="4.3"/>
<circle cx="1435.6" cy="648.6" r="4.3"/>
<circle cx="1319.7" cy="653.6" r="4.3"/>
<circle cx="1349.4" cy="623.7" r="4.3"/>
<circle cx="1296.9" cy="654.4" r="4.3"/>
<circle cx="1415.1" cy="650.5" r="4.3"/>
<circle cx="1345.4" cy="653.2" r="4.3"/>
<circle cx="1357.6" cy="603.8" r="4.3"/>
<circle cx="1395.9" cy="653.5" r="4.3"/>
<circle cx="1387.6" cy="622.5" r="4.3"/>
<circle cx="1370.3" cy="653.4" r="4.3"/>
<circle cx="1438.9" cy="654.4" r="4.3"/>
<circle cx="1448.1" cy="640.9" r="4.3"/>
<circle cx="1490.0" cy="641.7" r="4.3"/>
<circle cx="1352.0" cy="645.9" r="4.3"/>
<circle cx="1449.8" cy="647.2" r="4.3"/>
<circle cx="1396.9" cy="643.6" r="4.3"/>
<circle cx="1383.1" cy="639.2" r="4.3"/>
<circle cx="1515.5" cy="641.6" r="4.3"/>
<circle cx="1418.9" cy="645.4" r="4.3"/>
<circle cx="1494.6" cy="648.0" r="4.3"/>
<circle cx="1374.9" cy="628.5" r="4.3"/>
<circle cx="1490.9" cy="647.1" r="4.3"/>
<circle cx="1341.7" cy="650.6" r="4.3"/>
<circle cx="1393.4" cy="631.1" r="4.3"/>
<circle cx="1359.8" cy="643.8" r="4.3"/>
<circle cx="1404.7" cy="651.4" r="4.3"/>
<circle cx="1328.2" cy="650.5" r="4.3"/>
<circle cx="1355.9" cy="649.8" r="4.3"/>
<circle cx="1372.4" cy="646.3" r="4.3"/>
<circle cx="1490.2" cy="653.9" r="4.3"/>
<circle cx="1347.4" cy="630.0" r="4.3"/>
<circle cx="1407.2" cy="640.1" r="4.3"/>
<circle cx="1378.3" cy="641.3" r="4.3"/>
<circle cx="1336.4" cy="643.3" r="4.3"/>
<circle cx="1309.2" cy="630.8" r="4.3"/>
<circle cx="1428.8" cy="643.3" r="4.3"/>
<circle cx="1316.1" cy="635.6" r="4.3"/>
<circle cx="1348.9" cy="641.3" r="4.3"/>
<circle cx="1463.6" cy="644.8" r="4.3"/>
<circle cx="1332.2" cy="653.1" r="4.3"/>
<circle cx="1400.0" cy="645.4" r="4.3"/>
<circle cx="1423.9" cy="652.0" r="4.3"/>
<circle cx="1499.4" cy="643.6" r="4.3"/>
<circle cx="1321.9" cy="637.6" r="4.3"/>
<circle cx="1417.7" cy="654.4" r="4.3"/>
<circle cx="1404.7" cy="644.5" r="4.3"/>
<circle cx="1459.8" cy="649.9" r="4.3"/>
<circle cx="1382.2" cy="653.7" r="4.3"/>
<circle cx="1472.8" cy="641.2" r="4.3"/>
<circle cx="1396.3" cy="653.8" r="4.3"/>
<circle cx="1332.2" cy="640.6" r="4.3"/>
<circle cx="1387.0" cy="653.2" r="4.3"/>
<circle cx="1387.6" cy="653.0" r="4.3"/>
<circle cx="1342.6" cy="650.0" r="4.3"/>
<circle cx="1379.7" cy="651.7" r="4.3"/>
<circle cx="1451.9" cy="653.2" r="4.3"/>
<circle cx="1463.6" cy="642.6" r="4.3"/>
<circle cx="1389.4" cy="644.3" r="4.3"/>
<circle cx="1338.1" cy="647.9" r="4.3"/>
<circle cx="1325.1" cy="618.6" r="4.3"/>
<circle cx="1487.5" cy="646.1" r="4.3"/>
<circle cx="1326.4" cy="615.1" r="4.3"/>
<circle cx="1301.8" cy="645.5" r="4.3"/>
<circle cx="1374.1" cy="631.3" r="4.3"/>
<circle cx="1373.7" cy="654.2" r="4.3"/>
<circle cx="1471.2" cy="639.6" r="4.3"/>
<circle cx="1380.1" cy="649.4" r="4.3"/>
<circle cx="1446.9" cy="648.7" r="4.3"/>
<circle cx="1357.2" cy="608.4" r="4.3"/>
<circle cx="1332.4" cy="628.2" r="4.3"/>
<circle cx="1439.5" cy="644.0" r="4.3"/>
<circle cx="1343.4" cy="623.6" r="4.3"/>
<circle cx="1367.1" cy="641.9" r="4.3"/>
<circle cx="1442.4" cy="653.8" r="4.3"/>
<circle cx="1452.8" cy="650.4" r="4.3"/>
<circle cx="1336.6" cy="651.9" r="4.3"/>
<circle cx="1378.4" cy="617.8" r="4.3"/>
<circle cx="1401.8" cy="653.9" r="4.3"/>
<circle cx="1353.9" cy="622.7" r="4.3"/>
<circle cx="1318.0" cy="645.4" r="4.3"/>
<circle cx="1393.1" cy="650.3" r="4.3"/>
<circle cx="1363.3" cy="649.9" r="4.3"/>
<circle cx="1353.6" cy="614.1" r="4.3"/>
<circle cx="1393.4" cy="637.9" r="4.3"/>
<circle cx="1376.9" cy="645.8" r="4.3"/>
<circle cx="1433.3" cy="612.3" r="4.3"/>
<circle cx="1382.2" cy="639.7" r="4.3"/>
<circle cx="1408.4" cy="651.5" r="4.3"/>
<circle cx="1321.7" cy="654.1" r="4.3"/>
<circle cx="1475.6" cy="647.2" r="4.3"/>
<circle cx="1440.3" cy="649.6" r="4.3"/>
<circle cx="1436.7" cy="651.7" r="4.3"/>
<circle cx="1342.1" cy="654.4" r="4.3"/>
<circle cx="1348.1" cy="652.9" r="4.3"/>
<circle cx="1321.9" cy="652.8" r="4.3"/>
<circle cx="1393.4" cy="648.9" r="4.3"/>
<circle cx="1363.7" cy="653.2" r="4.3"/>
<circle cx="1398.8" cy="652.7" r="4.3"/>
<circle cx="1393.5" cy="652.9" r="4.3"/>
<circle cx="1349.7" cy="640.4" r="4.3"/>
<circle cx="1456.5" cy="642.2" r="4.3"/>
<circle cx="1340.7" cy="642.1" r="4.3"/>
<circle cx="1355.4" cy="645.2" r="4.3"/>
<circle cx="1472.0" cy="615.0" r="4.3"/>
<circle cx="1335.0" cy="638.3" r="4.3"/>
<circle cx="1395.5" cy="626.3" r="4.3"/>
<circle cx="1376.7" cy="627.0" r="4.3"/>
<circle cx="1370.2" cy="639.7" r="4.3"/>
<circle cx="1423.3" cy="642.6" r="4.3"/>
<circle cx="1354.6" cy="636.8" r="4.3"/>
<circle cx="1315.3" cy="653.0" r="4.3"/>
<circle cx="1363.4" cy="642.2" r="4.3"/>
<circle cx="1423.9" cy="645.8" r="4.3"/>
<circle cx="1409.2" cy="652.6" r="4.3"/>
<circle cx="1408.4" cy="654.4" r="4.3"/>
<circle cx="1395.8" cy="645.2" r="4.3"/>
<circle cx="1373.1" cy="646.7" r="4.3"/>
<circle cx="1379.5" cy="620.8" r="4.3"/>
<circle cx="1348.3" cy="650.0" r="4.3"/>
<circle cx="1352.6" cy="650.6" r="4.3"/>
<circle cx="1386.4" cy="646.2" r="4.3"/>
<circle cx="1377.6" cy="646.4" r="4.3"/>
<circle cx="1486.0" cy="647.8" r="4.3"/>
<circle cx="1376.4" cy="613.7" r="4.3"/>
<circle cx="1408.7" cy="649.5" r="4.3"/>
<circle cx="1369.3" cy="648.1" r="4.3"/>
<circle cx="1373.6" cy="640.3" r="4.3"/>
<circle cx="1431.2" cy="643.7" r="4.3"/>
<circle cx="1418.7" cy="651.3" r="4.3"/>
<circle cx="1397.1" cy="633.1" r="4.3"/>
<circle cx="1469.8" cy="641.2" r="4.3"/>
<circle cx="1355.4" cy="628.4" r="4.3"/>
<circle cx="1441.5" cy="649.7" r="4.3"/>
<circle cx="1499.9" cy="650.9" r="4.3"/>
<circle cx="1393.7" cy="634.0" r="4.3"/>
<circle cx="1465.9" cy="653.2" r="4.3"/>
<circle cx="1474.3" cy="652.2" r="4.3"/>
<circle cx="1382.7" cy="646.8" r="4.3"/>
<circle cx="1428.6" cy="650.7" r="4.3"/>
<circle cx="1477.5" cy="647.2" r="4.3"/>
<circle cx="1440.1" cy="653.7" r="4.3"/>
<circle cx="1467.7" cy="634.7" r="4.3"/>
<circle cx="1349.7" cy="653.6" r="4.3"/>
<circle cx="1387.1" cy="638.0" r="4.3"/>
<circle cx="1393.4" cy="652.8" r="4.3"/>
<circle cx="1360.2" cy="650.8" r="4.3"/>
<circle cx="1313.6" cy="642.7" r="4.3"/>
<circle cx="1405.1" cy="647.5" r="4.3"/>
<circle cx="1503.1" cy="649.1" r="4.3"/>
<circle cx="1409.5" cy="643.2" r="4.3"/>
<circle cx="1444.0" cy="653.4" r="4.3"/>
<circle cx="1429.4" cy="641.9" r="4.3"/>
<circle cx="1332.2" cy="648.7" r="4.3"/>
<circle cx="1436.4" cy="653.2" r="4.3"/>
<circle cx="1431.6" cy="652.2" r="4.3"/>
<circle cx="1381.9" cy="652.2" r="4.3"/>
<circle cx="1426.7" cy="647.4" r="4.3"/>
<circle cx="1381.4" cy="633.3" r="4.3"/>
<circle cx="1343.0" cy="627.9" r="4.3"/>
<circle cx="1438.2" cy="645.3" r="4.3"/>
<circle cx="1317.2" cy="651.3" r="4.3"/>
<circle cx="1350.7" cy="641.6" r="4.3"/>
<circle cx="1399.5" cy="636.4" r="4.3"/>
<circle cx="1390.8" cy="610.9" r="4.3"/>
<circle cx="1462.5" cy="654.4" r="4.3"/>
<circle cx="1358.0" cy="636.9" r="4.3"/>
<circle cx="1391.4" cy="637.9" r="4.3"/>
<circle cx="1364.4" cy="651.4" r="4.3"/>
<circle cx="1435.4" cy="653.7" r="4.3"/>
<circle cx="1469.4" cy="644.0" r="4.3"/>
<circle cx="1382.9" cy="639.2" r="4.3"/>
<circle cx="1534.6" cy="624.1" r="4.3"/>
<circle cx="1437.9" cy="653.3" r="4.3"/>
<circle cx="1411.7" cy="640.2" r="4.3"/>
<circle cx="1458.2" cy="653.2" r="4.3"/>
<circle cx="1348.9" cy="618.5" r="4.3"/>
<circle cx="1369.9" cy="653.6" r="4.3"/>
<circle cx="1504.1" cy="650.0" r="4.3"/>
<circle cx="1441.3" cy="628.1" r="4.3"/>
<circle cx="1351.6" cy="647.1" r="4.3"/>
<circle cx="1410.8" cy="654.3" r="4.3"/>
<circle cx="1388.0" cy="644.0" r="4.3"/>
<circle cx="1356.5" cy="641.4" r="4.3"/>
<circle cx="1420.0" cy="654.0" r="4.3"/>
<circle cx="1385.0" cy="640.3" r="4.3"/>
<circle cx="1346.5" cy="652.8" r="4.3"/>
<circle cx="1325.8" cy="633.7" r="4.3"/>
<circle cx="1361.1" cy="650.6" r="4.3"/>
<circle cx="1443.9" cy="647.4" r="4.3"/>
<circle cx="1353.5" cy="638.2" r="4.3"/>
<circle cx="1392.7" cy="628.9" r="4.3"/>
<circle cx="1379.6" cy="644.7" r="4.3"/>
<circle cx="1385.5" cy="631.8" r="4.3"/>
<circle cx="1355.0" cy="645.7" r="4.3"/>
<circle cx="1364.4" cy="647.5" r="4.3"/>
<circle cx="1460.2" cy="644.8" r="4.3"/>
<circle cx="1459.0" cy="652.4" r="4.3"/>
<circle cx="1384.2" cy="626.4" r="4.3"/>
<circle cx="1428.6" cy="640.3" r="4.3"/>
<circle cx="1500.1" cy="647.9" r="4.3"/>
<circle cx="1394.1" cy="651.2" r="4.3"/>
<circle cx="1430.2" cy="647.6" r="4.3"/>
<circle cx="1383.5" cy="648.4" r="4.3"/>
<circle cx="1468.8" cy="640.1" r="4.3"/>
<circle cx="1363.2" cy="643.5" r="4.3"/>
<circle cx="1427.4" cy="644.4" r="4.3"/>
<circle cx="1366.4" cy="653.2" r="4.3"/>
<circle cx="1389.5" cy="641.5" r="4.3"/>
<circle cx="1340.2" cy="628.5" r="4.3"/>
<circle cx="1351.8" cy="646.2" r="4.3"/>
<circle cx="1361.8" cy="632.2" r="4.3"/>
<circle cx="1360.2" cy="635.3" r="4.3"/>
<circle cx="1355.8" cy="644.8" r="4.3"/>
<circle cx="1342.6" cy="654.4" r="4.3"/>
<circle cx="1315.8" cy="636.3" r="4.3"/>
<circle cx="1484.8" cy="654.4" r="4.3"/>
<circle cx="1347.5" cy="646.6" r="4.3"/>
<circle cx="1348.6" cy="613.9" r="4.3"/>
<circle cx="1434.1" cy="642.9" r="4.3"/>
<circle cx="1440.6" cy="650.7" r="4.3"/>
<circle cx="1467.2" cy="651.2" r="4.3"/>
<circle cx="1456.3" cy="651.6" r="4.3"/>
<circle cx="1374.9" cy="652.2" r="4.3"/>
<circle cx="1402.5" cy="643.6" r="4.3"/>
<circle cx="1335.0" cy="653.4" r="4.3"/>
<circle cx="1310.9" cy="624.9" r="4.3"/>
<circle cx="1394.6" cy="646.7" r="4.3"/>
<circle cx="1396.9" cy="646.0" r="4.3"/>
<circle cx="1356.9" cy="634.1" r="4.3"/>
<circle cx="1360.6" cy="650.6" r="4.3"/>
<circle cx="1432.4" cy="654.4" r="4.3"/>
<circle cx="1485.2" cy="652.3" r="4.3"/>
<circle cx="1484.0" cy="651.5" r="4.3"/>
<circle cx="1332.5" cy="646.2" r="4.3"/>
<circle cx="1427.9" cy="651.0" r="4.3"/>
<circle cx="1345.8" cy="651.7" r="4.3"/>
<circle cx="1314.6" cy="636.7" r="4.3"/>
<circle cx="1393.5" cy="624.7" r="4.3"/>
<circle cx="1386.2" cy="650.7" r="4.3"/>
<circle cx="1416.5" cy="642.3" r="4.3"/>
<circle cx="1399.2" cy="654.4" r="4.3"/>
<circle cx="1386.8" cy="646.2" r="4.3"/>
<circle cx="1450.8" cy="648.0" r="4.3"/>
<circle cx="1449.0" cy="620.1" r="4.3"/>
<circle cx="1402.7" cy="653.9" r="4.3"/>
<circle cx="1350.6" cy="642.9" r="4.3"/>
<circle cx="1425.3" cy="629.3" r="4.3"/>
<circle cx="1389.4" cy="630.9" r="4.3"/>
<circle cx="1349.2" cy="646.4" r="4.3"/>
<circle cx="1402.3" cy="647.8" r="4.3"/>
<circle cx="1378.8" cy="641.8" r="4.3"/>
<circle cx="1494.2" cy="654.2" r="4.3"/>
<circle cx="1346.1" cy="626.0" r="4.3"/>
<circle cx="1440.3" cy="640.1" r="4.3"/>
<circle cx="1369.1" cy="618.9" r="4.3"/>
<circle cx="1378.4" cy="640.1" r="4.3"/>
<circle cx="1334.9" cy="640.2" r="4.3"/>
<circle cx="1527.5" cy="652.6" r="4.3"/>
<circle cx="1398.7" cy="649.4" r="4.3"/>
<circle cx="1377.3" cy="653.1" r="4.3"/>
<circle cx="1370.7" cy="637.7" r="4.3"/>
<circle cx="1387.3" cy="644.2" r="4.3"/>
<circle cx="1306.1" cy="654.4" r="4.3"/>
<circle cx="1373.5" cy="617.2" r="4.3"/>
<circle cx="1412.1" cy="648.3" r="4.3"/>
<circle cx="1473.0" cy="641.7" r="4.3"/>
<circle cx="1439.6" cy="642.7" r="4.3"/>
<circle cx="1377.3" cy="645.3" r="4.3"/>
<circle cx="1431.4" cy="650.7" r="4.3"/>
<circle cx="1384.1" cy="653.5" r="4.3"/>
<circle cx="1506.2" cy="647.2" r="4.3"/>
<circle cx="1439.2" cy="654.2" r="4.3"/>
<circle cx="1409.4" cy="649.0" r="4.3"/>
<circle cx="1377.0" cy="631.5" r="4.3"/>
<circle cx="1401.0" cy="644.7" r="4.3"/>
<circle cx="1445.4" cy="649.5" r="4.3"/>
<circle cx="1355.2" cy="632.2" r="4.3"/>
<circle cx="1400.8" cy="649.9" r="4.3"/>
<circle cx="1381.2" cy="638.4" r="4.3"/>
<circle cx="1303.4" cy="654.0" r="4.3"/>
<circle cx="1380.4" cy="648.9" r="4.3"/>
<circle cx="1362.0" cy="615.0" r="4.3"/>
<circle cx="1336.5" cy="648.1" r="4.3"/>
<circle cx="1441.4" cy="643.0" r="4.3"/>
<circle cx="1365.0" cy="646.8" r="4.3"/>
<circle cx="1316.2" cy="648.1" r="4.3"/>
<circle cx="1393.1" cy="629.6" r="4.3"/>
<circle cx="1379.6" cy="638.1" r="4.3"/>
<circle cx="1393.7" cy="630.7" r="4.3"/>
<circle cx="1463.8" cy="651.2" r="4.3"/>
<circle cx="1360.9" cy="652.8" r="4.3"/>
<circle cx="1412.7" cy="643.9" r="4.3"/>
<circle cx="1431.6" cy="644.3" r="4.3"/>
<circle cx="1368.5" cy="633.2" r="4.3"/>
<circle cx="1498.9" cy="652.7" r="4.3"/>
<circle cx="1474.9" cy="654.2" r="4.3"/>
<circle cx="1375.8" cy="650.0" r="4.3"/>
<circle cx="1438.2" cy="645.4" r="4.3"/>
<circle cx="1435.2" cy="651.4" r="4.3"/>
<circle cx="1315.6" cy="650.6" r="4.3"/>
<circle cx="1464.7" cy="619.2" r="4.3"/>
<circle cx="1328.3" cy="650.7" r="4.3"/>
<circle cx="1404.3" cy="650.5" r="4.3"/>
<circle cx="1389.1" cy="651.6" r="4.3"/>
<circle cx="1453.7" cy="647.7" r="4.3"/>
<circle cx="1377.7" cy="654.1" r="4.3"/>
<circle cx="1448.4" cy="651.1" r="4.3"/>
<circle cx="1394.6" cy="652.8" r="4.3"/>
<circle cx="1371.5" cy="648.5" r="4.3"/>
<circle cx="1400.7" cy="654.4" r="4.3"/>
<circle cx="1358.2" cy="650.6" r="4.3"/>
<circle cx="1487.8" cy="643.5" r="4.3"/>
<circle cx="1323.8" cy="654.4" r="4.3"/>
<circle cx="1466.3" cy="648.8" r="4.3"/>
<circle cx="1393.2" cy="631.2" r="4.3"/>
<circle cx="1381.2" cy="617.8" r="4.3"/>
<circle cx="1445.8" cy="620.8" r="4.3"/>
<circle cx="1310.8" cy="642.3" r="4.3"/>
<circle cx="1316.9" cy="643.8" r="4.3"/>
<circle cx="1438.7" cy="629.1" r="4.3"/>
<circle cx="1376.3" cy="652.0" r="4.3"/>
<circle cx="1414.9" cy="651.7" r="4.3"/>
<circle cx="1389.4" cy="629.3" r="4.3"/>
<circle cx="1392.1" cy="626.9" r="4.3"/>
<circle cx="1458.2" cy="607.4" r="4.3"/>
<circle cx="1316.3" cy="641.1" r="4.3"/>
<circle cx="1430.1" cy="631.9" r="4.3"/>
<circle cx="1301.0" cy="627.8" r="4.3"/>
<circle cx="1336.4" cy="614.4" r="4.3"/>
<circle cx="1391.7" cy="623.7" r="4.3"/>
<circle cx="1402.9" cy="633.1" r="4.3"/>
<circle cx="1431.8" cy="624.5" r="4.3"/>
<circle cx="1441.0" cy="617.8" r="4.3"/>
<circle cx="1378.9" cy="642.8" r="4.3"/>
<circle cx="1491.5" cy="642.8" r="4.3"/>
<circle cx="1340.4" cy="645.8" r="4.3"/>
<circle cx="1496.0" cy="621.7" r="4.3"/>
<circle cx="1425.1" cy="639.6" r="4.3"/>
<circle cx="1451.1" cy="608.5" r="4.3"/>
<circle cx="1336.5" cy="637.4" r="4.3"/>
<circle cx="1428.0" cy="608.5" r="4.3"/>
<circle cx="1341.0" cy="615.7" r="4.3"/>
<circle cx="1340.6" cy="621.5" r="4.3"/>
<circle cx="1341.1" cy="615.1" r="4.3"/>
<circle cx="1364.4" cy="616.9" r="4.3"/>
<circle cx="1419.5" cy="620.5" r="4.3"/>
<circle cx="1473.0" cy="611.6" r="4.3"/>
<circle cx="1481.5" cy="641.4" r="4.3"/>
<circle cx="1336.3" cy="637.8" r="4.3"/>
<circle cx="1337.7" cy="647.7" r="4.3"/>
<circle cx="1419.9" cy="622.8" r="4.3"/>
<circle cx="1305.8" cy="648.2" r="4.3"/>
<circle cx="1440.3" cy="615.1" r="4.3"/>
<circle cx="1418.5" cy="616.8" r="4.3"/>
<circle cx="1443.5" cy="606.2" r="4.3"/>
<circle cx="1411.0" cy="643.1" r="4.3"/>
<circle cx="1354.6" cy="646.1" r="4.3"/>
<circle cx="1413.6" cy="609.2" r="4.3"/>
<circle cx="1437.6" cy="630.5" r="4.3"/>
<circle cx="1439.6" cy="648.3" r="4.3"/>
<circle cx="1426.5" cy="625.7" r="4.3"/>
<circle cx="1362.4" cy="650.0" r="4.3"/>
<circle cx="1408.3" cy="637.6" r="4.3"/>
<circle cx="1446.9" cy="636.1" r="4.3"/>
<circle cx="1457.7" cy="643.6" r="4.3"/>
<circle cx="1424.2" cy="621.0" r="4.3"/>
<circle cx="1376.5" cy="637.5" r="4.3"/>
<circle cx="1387.0" cy="642.4" r="4.3"/>
<circle cx="1398.4" cy="631.9" r="4.3"/>
<circle cx="1349.7" cy="603.5" r="4.3"/>
<circle cx="1435.0" cy="612.5" r="4.3"/>
<circle cx="1338.1" cy="623.3" r="4.3"/>
<circle cx="1415.8" cy="617.9" r="4.3"/>
<circle cx="1398.3" cy="642.3" r="4.3"/>
<circle cx="1441.7" cy="647.7" r="4.3"/>
<circle cx="1341.2" cy="622.5" r="4.3"/>
<circle cx="1397.8" cy="617.8" r="4.3"/>
<circle cx="1496.4" cy="624.3" r="4.3"/>
<circle cx="1304.4" cy="644.0" r="4.3"/>
<circle cx="1441.1" cy="629.8" r="4.3"/>
<circle cx="1457.9" cy="603.9" r="4.3"/>
<circle cx="1346.0" cy="609.6" r="4.3"/>
<circle cx="1425.1" cy="624.0" r="4.3"/>
<circle cx="1430.3" cy="640.9" r="4.3"/>
<circle cx="1436.3" cy="612.4" r="4.3"/>
<circle cx="1442.3" cy="611.4" r="4.3"/>
<circle cx="1367.8" cy="635.8" r="4.3"/>
<circle cx="1422.1" cy="638.5" r="4.3"/>
<circle cx="1458.0" cy="645.6" r="4.3"/>
<circle cx="1486.4" cy="637.0" r="4.3"/>
<circle cx="1389.6" cy="632.4" r="4.3"/>
<circle cx="1374.1" cy="629.7" r="4.3"/>
<circle cx="1458.9" cy="647.4" r="4.3"/>
<circle cx="1463.3" cy="633.2" r="4.3"/>
<circle cx="1341.1" cy="645.3" r="4.3"/>
<circle cx="1362.7" cy="645.8" r="4.3"/>
<circle cx="1368.4" cy="606.9" r="4.3"/>
<circle cx="1409.2" cy="639.1" r="4.3"/>
<circle cx="1303.7" cy="641.0" r="4.3"/>
<circle cx="1459.6" cy="611.1" r="4.3"/>
<circle cx="1457.2" cy="609.6" r="4.3"/>
<circle cx="1402.3" cy="637.0" r="4.3"/>
<circle cx="1437.3" cy="647.5" r="4.3"/>
<circle cx="1404.4" cy="616.6" r="4.3"/>
<circle cx="1427.1" cy="627.6" r="4.3"/>
<circle cx="1411.1" cy="617.6" r="4.3"/>
<circle cx="1468.7" cy="645.3" r="4.3"/>
<circle cx="1469.9" cy="648.5" r="4.3"/>
<circle cx="1413.7" cy="612.4" r="4.3"/>
<circle cx="1399.6" cy="631.4" r="4.3"/>
<circle cx="1459.8" cy="629.5" r="4.3"/>
<circle cx="1437.6" cy="606.1" r="4.3"/>
<circle cx="1381.6" cy="648.0" r="4.3"/>
<circle cx="1352.4" cy="625.2" r="4.3"/>
<circle cx="1385.6" cy="641.3" r="4.3"/>
<circle cx="1394.3" cy="617.9" r="4.3"/>
<circle cx="1422.8" cy="646.5" r="4.3"/>
<circle cx="1455.4" cy="604.1" r="4.3"/>
<circle cx="1343.9" cy="635.3" r="4.3"/>
<circle cx="1369.8" cy="632.1" r="4.3"/>
<circle cx="1445.6" cy="608.8" r="4.3"/>
<circle cx="1348.6" cy="612.3" r="4.3"/>
<circle cx="1386.2" cy="620.7" r="4.3"/>
<circle cx="1404.9" cy="610.5" r="4.3"/>
<circle cx="1425.5" cy="633.0" r="4.3"/>
<circle cx="1345.0" cy="637.8" r="4.3"/>
<circle cx="1480.3" cy="617.8" r="4.3"/>
<circle cx="1477.3" cy="609.3" r="4.3"/>
<circle cx="1444.8" cy="615.2" r="4.3"/>
<circle cx="1482.1" cy="648.5" r="4.3"/>
<circle cx="1400.1" cy="638.6" r="4.3"/>
<circle cx="1436.5" cy="611.9" r="4.3"/>
<circle cx="1402.0" cy="629.7" r="4.3"/>
<circle cx="1498.0" cy="646.6" r="4.3"/>
<circle cx="1310.5" cy="647.7" r="4.3"/>
<circle cx="1452.5" cy="618.4" r="4.3"/>
<circle cx="1402.1" cy="623.2" r="4.3"/>
<circle cx="1379.9" cy="612.2" r="4.3"/>
<circle cx="1425.1" cy="622.0" r="4.3"/>
<circle cx="1399.9" cy="649.2" r="4.3"/>
<circle cx="1350.2" cy="645.8" r="4.3"/>
<circle cx="1455.2" cy="641.3" r="4.3"/>
<circle cx="1453.0" cy="639.0" r="4.3"/>
<circle cx="1444.0" cy="606.3" r="4.3"/>
<circle cx="1392.7" cy="603.5" r="4.3"/>
<circle cx="1427.0" cy="632.3" r="4.3"/>
<circle cx="1431.3" cy="629.8" r="4.3"/>
<circle cx="1376.7" cy="650.0" r="4.3"/>
<circle cx="1439.7" cy="638.8" r="4.3"/>
<circle cx="1349.8" cy="621.9" r="4.3"/>
<circle cx="1337.5" cy="620.7" r="4.3"/>
<circle cx="1348.7" cy="645.6" r="4.3"/>
<circle cx="1400.6" cy="648.5" r="4.3"/>
<circle cx="1307.1" cy="646.7" r="4.3"/>
<circle cx="1393.3" cy="610.9" r="4.3"/>
<circle cx="1383.0" cy="627.8" r="4.3"/>
<circle cx="1371.8" cy="616.4" r="4.3"/>
<circle cx="1411.3" cy="616.3" r="4.3"/>
<circle cx="1357.8" cy="603.7" r="4.3"/>
<circle cx="1376.8" cy="645.2" r="4.3"/>
<circle cx="1312.8" cy="645.6" r="4.3"/>
<circle cx="1394.5" cy="648.7" r="4.3"/>
<circle cx="1403.7" cy="647.1" r="4.3"/>
<circle cx="1392.6" cy="649.0" r="4.3"/>
<circle cx="1390.0" cy="612.6" r="4.3"/>
<circle cx="1404.7" cy="608.8" r="4.3"/>
<circle cx="1432.9" cy="624.4" r="4.3"/>
<circle cx="1415.6" cy="622.7" r="4.3"/>
<circle cx="1405.2" cy="649.9" r="4.3"/>
<circle cx="1446.3" cy="614.2" r="4.3"/>
<circle cx="1370.6" cy="615.8" r="4.3"/>
<circle cx="1412.1" cy="630.8" r="4.3"/>
<circle cx="1450.2" cy="611.9" r="4.3"/>
<circle cx="1383.9" cy="632.3" r="4.3"/>
<circle cx="1407.4" cy="606.4" r="4.3"/>
<circle cx="1434.6" cy="628.9" r="4.3"/>
<circle cx="1373.4" cy="625.5" r="4.3"/>
<circle cx="1367.4" cy="638.0" r="4.3"/>
<circle cx="1424.0" cy="639.1" r="4.3"/>
<circle cx="1383.7" cy="615.1" r="4.3"/>
<circle cx="1372.5" cy="633.7" r="4.3"/>
<circle cx="1363.7" cy="628.8" r="4.3"/>
<circle cx="1317.6" cy="644.1" r="4.3"/>
<circle cx="1436.4" cy="617.0" r="4.3"/>
<circle cx="1438.2" cy="616.3" r="4.3"/>
<circle cx="1370.3" cy="637.1" r="4.3"/>
<circle cx="1386.5" cy="640.7" r="4.3"/>
<circle cx="1362.2" cy="621.8" r="4.3"/>
<circle cx="1371.8" cy="620.1" r="4.3"/>
<circle cx="1475.9" cy="616.2" r="4.3"/>
<circle cx="1402.2" cy="628.6" r="4.3"/>
<circle cx="1327.1" cy="638.1" r="4.3"/>
<circle cx="1298.6" cy="641.6" r="4.3"/>
<circle cx="1316.8" cy="646.5" r="4.3"/>
<circle cx="1316.8" cy="644.4" r="4.3"/>
<circle cx="1301.8" cy="653.8" r="4.3"/>
<circle cx="1313.5" cy="646.0" r="4.3"/>
<circle cx="1308.8" cy="649.8" r="4.3"/>
<circle cx="1314.8" cy="652.9" r="4.3"/>
<circle cx="1304.4" cy="651.5" r="4.3"/>
<circle cx="1313.3" cy="651.9" r="4.3"/>
<circle cx="1318.2" cy="651.6" r="4.3"/>
<circle cx="1321.1" cy="653.6" r="4.3"/>
<circle cx="1312.4" cy="646.5" r="4.3"/>
<circle cx="1314.9" cy="651.1" r="4.3"/>
<circle cx="1304.8" cy="644.9" r="4.3"/>
<circle cx="1295.1" cy="650.1" r="4.3"/>
<circle cx="1324.7" cy="644.1" r="4.3"/>
<circle cx="1295.9" cy="641.3" r="4.3"/>
<circle cx="1304.9" cy="642.8" r="4.3"/>
<circle cx="1323.9" cy="639.0" r="4.3"/>
<circle cx="1300.8" cy="639.9" r="4.3"/>
<circle cx="1312.7" cy="650.6" r="4.3"/>
<circle cx="1296.3" cy="639.0" r="4.3"/>
<circle cx="1306.1" cy="647.5" r="4.3"/>
<circle cx="1321.8" cy="638.6" r="4.3"/>
<circle cx="1274.3" cy="647.5" r="4.3"/>
<circle cx="1276.6" cy="648.0" r="4.3"/>
<circle cx="1287.1" cy="650.9" r="4.3"/>
<circle cx="1276.7" cy="647.5" r="4.3"/>
<circle cx="1277.9" cy="647.4" r="4.3"/>
<circle cx="1287.9" cy="648.6" r="4.3"/>
<circle cx="1283.5" cy="652.8" r="4.3"/>
</g>
<text transform="translate(1500,758.6) scale(1,1.05)" text-anchor="middle" class="serif b" font-size="33" fill="#000">AIP</text>
<text transform="translate(1268.2,379.3) rotate(-90) scale(1.018,1.11)" text-anchor="middle" class="serif b" font-size="33" fill="#000">Gensini Score</text>
<text x="1425" y="137.3" class="serif" font-size="33" fill="#000" textLength="106" lengthAdjust="spacing">r=0.115</text>
<g class="serif" font-size="33" fill="#000">
<text x="1425" y="174.4" font-style="italic">P</text>
<text transform="translate(1443.9,170.9) scale(1.07,0.77)">＜</text>
<text x="1478.4" y="174.4">0.001</text>
</g>
</g>
</svg>
<div class="ylab"><b>DELC</b><span>计数</span></div>
</body>
</html>
